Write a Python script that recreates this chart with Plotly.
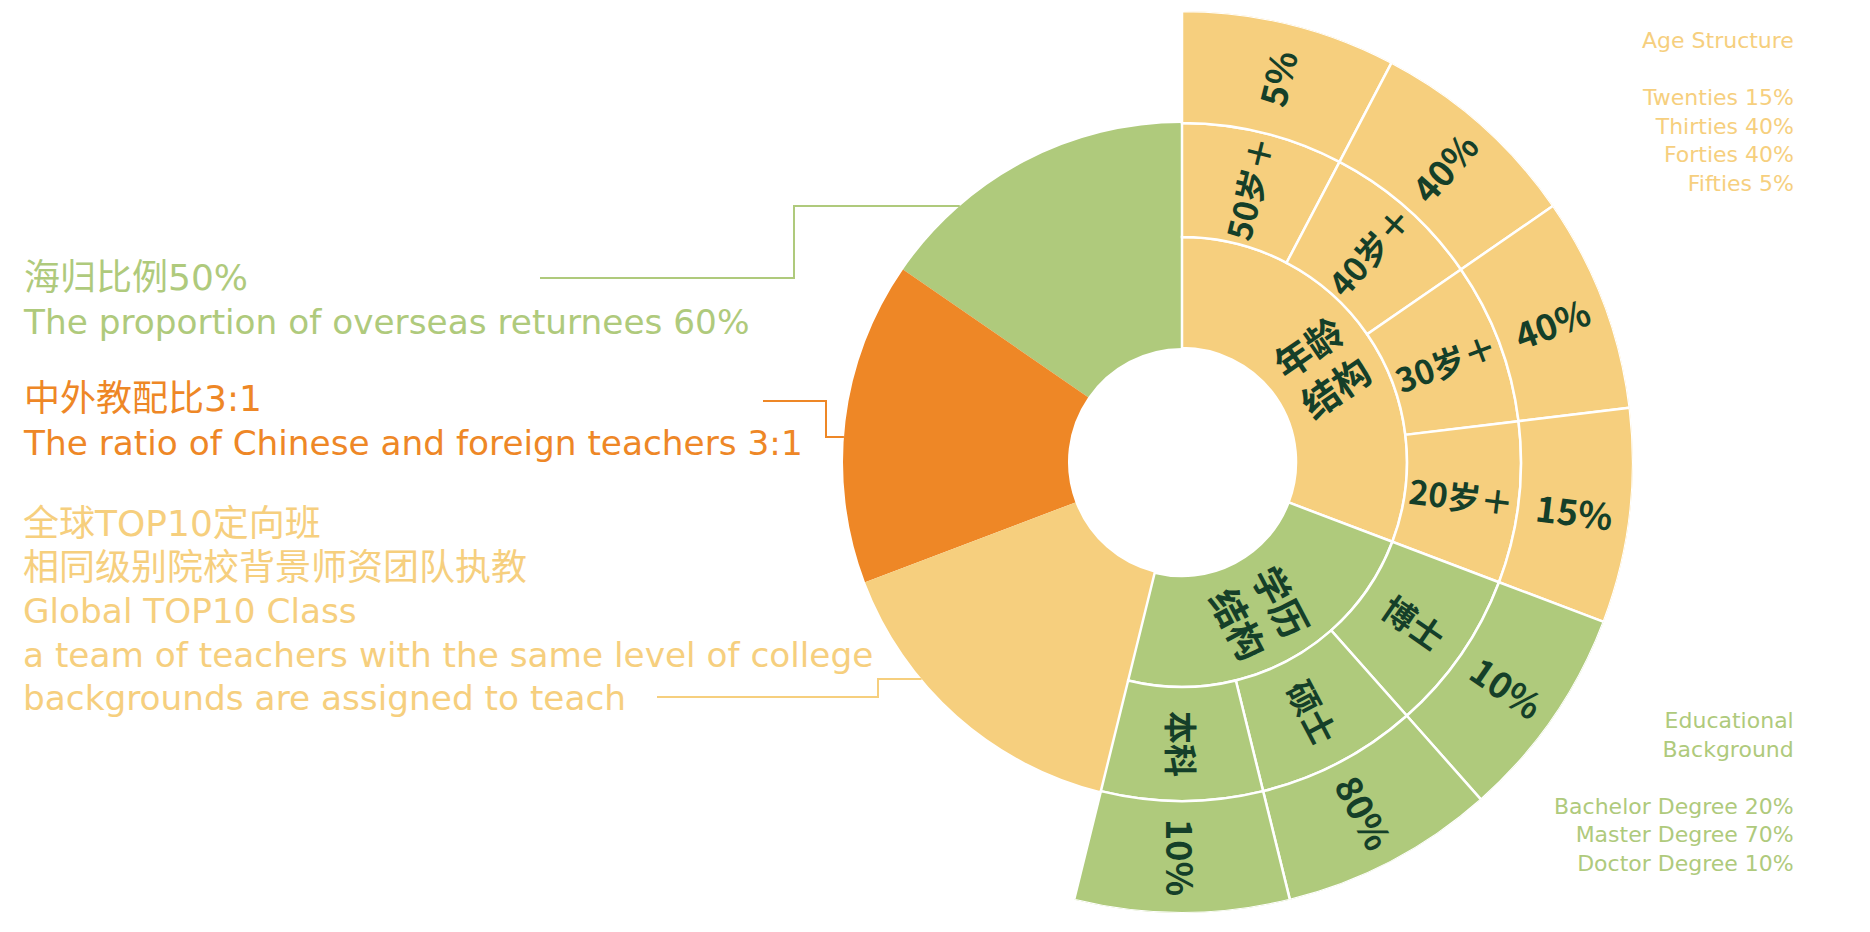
import math
import plotly.graph_objects as go

W, H = 1870, 932

# ---------------- data ----------------
age_groups = ["50岁＋", "40岁＋", "30岁＋", "20岁＋"]
age_shares = [5, 40, 40, 15]
edu_groups = ["博士", "硕士", "本科"]
edu_shares = [10, 80, 10]
ring_titles = ["年龄<br>结构", "学历<br>结构"]

highlight_lines = [
    ["海归比例50%", "The proportion of overseas returnees 60%"],
    ["中外教配比3:1", "The ratio of Chinese and foreign teachers 3:1"],
    ["全球TOP10定向班", "相同级别院校背景师资团队执教", "Global TOP10 Class",
     "a team of teachers with the same level of college",
     "backgrounds are assigned to teach"],
]

age_legend_title = ["Age Structure"]
age_legend_names = ["Twenties", "Thirties", "Forties", "Fifties"]
age_legend_values = [15, 40, 40, 5]
edu_legend_title = ["Educational", "Background"]
edu_legend_names = ["Bachelor Degree", "Master Degree", "Doctor Degree"]
edu_legend_values = [20, 70, 10]

# ---------------- style ----------------
GREEN = "#AFCA7C"
ORANGE = "#EE8726"
SAND = "#F6CF7E"
INK = "#153F29"
highlight_colors = [GREEN, ORANGE, SAND]

CX, CY = 1182, 462            # chart centre (px)
R_HOLE, R_IN, R_MID, R_OUT = 114, 225, 339, 451

CN_FONT = "Noto Sans CJK SC"
LEFT_FONT = "DejaVu Sans, Noto Sans CJK SC, sans-serif"
LEGEND_FONT = "DejaVu Sans, Noto Sans CJK SC, sans-serif"

n_units = 2 * len(highlight_lines) + len(age_groups) + len(edu_groups)
unit = 360.0 / n_units
seg_groups = age_groups + edu_groups
seg_shares = age_shares + edu_shares
seg_colors = [SAND] * len(age_groups) + [GREEN] * len(edu_groups)


def px_to_paper(x, y):
    return x / W, 1 - y / H


def polar_to_paper(theta, r):
    t = math.radians(theta)
    return px_to_paper(CX + r * math.sin(t), CY - r * math.cos(t))


fig = go.Figure()

# left half: three highlight wedges (two units each, counter-clockwise from top)
fig.add_trace(go.Barpolar(
    theta=[-unit * (2 * j + 1) for j in range(len(highlight_lines))],
    width=[2 * unit] * len(highlight_lines),
    base=[R_HOLE] * len(highlight_lines),
    r=[R_MID - R_HOLE] * len(highlight_lines),
    marker=dict(color=highlight_colors, line=dict(width=0)),
    hoverinfo="skip",
))

# inner ring: structure titles
n_age, n_edu = len(age_groups), len(edu_groups)
fig.add_trace(go.Barpolar(
    theta=[unit * n_age / 2, unit * (n_age + n_edu / 2)],
    width=[unit * n_age, unit * n_edu],
    base=[R_HOLE, R_HOLE],
    r=[R_IN - R_HOLE] * 2,
    marker=dict(color=[SAND, GREEN], line=dict(color="white", width=2.5)),
    hoverinfo="skip",
))

# middle ring: group names, outer ring: shares
for base, outer in [(R_IN, R_MID), (R_MID, R_OUT)]:
    fig.add_trace(go.Barpolar(
        theta=[unit * (k + 0.5) for k in range(len(seg_groups))],
        width=[unit] * len(seg_groups),
        base=[base] * len(seg_groups),
        r=[outer - base] * len(seg_groups),
        marker=dict(color=seg_colors, line=dict(color="white", width=2.5)),
        hoverinfo="skip",
    ))

annotations = []


def ring_label(text, theta, r, size):
    x, y = polar_to_paper(theta, r)
    annotations.append(dict(
        x=x, y=y, xref="paper", yref="paper", text=text, showarrow=False,
        xanchor="center", yanchor="middle", textangle=theta - 90,
        font=dict(family=CN_FONT, size=size, color=INK, weight=700),
    ))


ring_label(ring_titles[0], unit * n_age / 2, (R_HOLE + R_IN) / 2, 37)
ring_label(ring_titles[1], unit * (n_age + n_edu / 2), (R_HOLE + R_IN) / 2, 37)
for k, (grp, share) in enumerate(zip(seg_groups, seg_shares)):
    th = unit * (k + 0.5)
    ring_label(grp, th, (R_IN + R_MID) / 2, 33)
    ring_label(f"{share}%", th, (R_MID + R_OUT) / 2, 36)


def is_cjk(s):
    return any(ord(ch) >= 0x2E80 for ch in s)


# left description blocks (one text block per highlight)
LEFT_SIZE = 33.5
block_first_line = [278, 399, 523]
line_step = 1.3 * LEFT_SIZE
for lines, color, first in zip(highlight_lines, highlight_colors, block_first_line):
    text = "<br>".join(
        f'<span style="font-size:36px">{ln}</span>' if is_cjk(ln)
        else f'<span style="font-size:34.3px">{ln}</span>'
        for ln in lines
    )
    x, y = px_to_paper(21, first + (len(lines) - 1) * line_step / 2)
    annotations.append(dict(
        x=x, y=y, xref="paper", yref="paper", text=text, showarrow=False,
        xanchor="left", yanchor="middle", align="left",
        font=dict(family=LEFT_FONT, size=LEFT_SIZE, color=color),
    ))

# connector lines from the text blocks to the wedges
shapes = []
connectors = [
    (540, 278, 794, 206),
    (763, 401, 826, 437),
    (657, 697, 878, 679),
]
for (x0, y0, xk, y1), color in zip(connectors, highlight_colors):
    x_end = CX - math.sqrt(R_MID ** 2 - (CY - y1) ** 2)
    pts = [(x0, y0), (xk, y0), (xk, y1), (x_end, y1)]
    path = "M " + " L ".join(f"{px_to_paper(px, py)[0]:.5f},{px_to_paper(px, py)[1]:.5f}" for px, py in pts)
    shapes.append(dict(type="path", path=path, xref="paper", yref="paper",
                       line=dict(color=color, width=2), layer="below"))


# right-hand legends
LEGEND_SIZE = 22


def legend_block(lines, first, color):
    x, y = px_to_paper(1796, first + (len(lines) - 1) * 1.3 * LEGEND_SIZE / 2)
    annotations.append(dict(
        x=x, y=y, xref="paper", yref="paper", text="<br>".join(lines), showarrow=False,
        xanchor="right", yanchor="middle", align="right",
        font=dict(family=LEGEND_FONT, size=LEGEND_SIZE, color=color),
    ))


legend_block(age_legend_title + [""] + [f"{n} {v}%" for n, v in zip(age_legend_names, age_legend_values)],
             40, SAND)
legend_block(edu_legend_title + [""] + [f"{n} {v}%" for n, v in zip(edu_legend_names, edu_legend_values)],
             720, GREEN)

x0, _ = px_to_paper(CX - R_OUT, 0)
x1, _ = px_to_paper(CX + R_OUT, 0)
_, y1 = px_to_paper(0, CY - R_OUT)
_, y0 = px_to_paper(0, CY + R_OUT)

fig.update_layout(
    width=W, height=H, margin=dict(l=0, r=0, t=0, b=0),
    paper_bgcolor="white", plot_bgcolor="white", showlegend=False,
    polar=dict(
        domain=dict(x=[x0, x1], y=[y0, y1]),
        bgcolor="rgba(0,0,0,0)",
        angularaxis=dict(rotation=90, direction="clockwise", visible=False),
        radialaxis=dict(range=[0, R_OUT], visible=False),
    ),
    annotations=annotations,
    shapes=shapes,
)

fig.write_html("out.html", config={"displayModeBar": False})
